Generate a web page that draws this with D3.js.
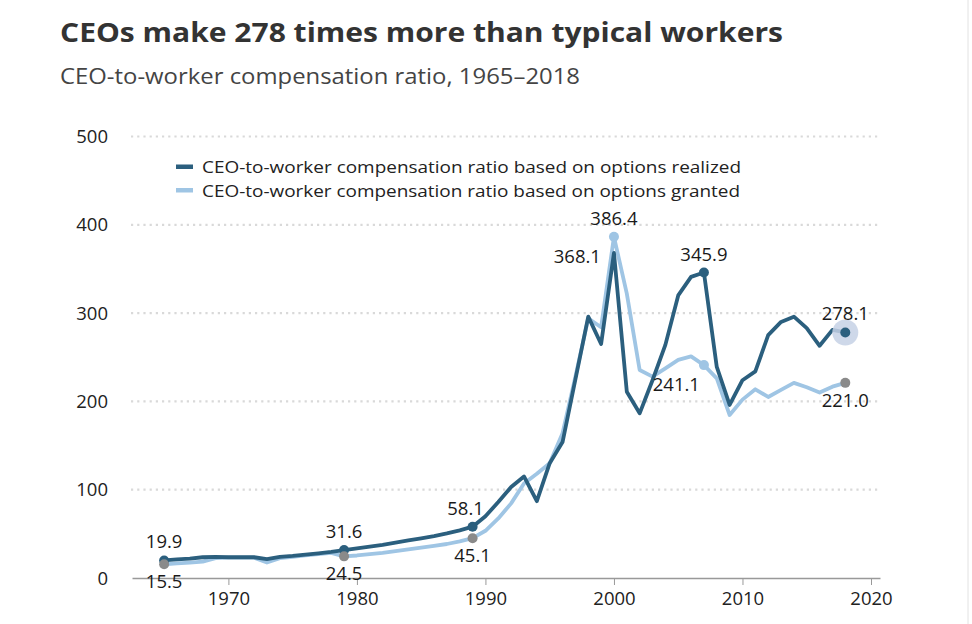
<!DOCTYPE html>
<html>
<head>
<meta charset="utf-8">
<script src="https://cdn.jsdelivr.net/npm/d3@7"></script>
<style>
  body { margin: 0; background: #fff; }
  svg { font-family: "Open Sans", Lato, sans-serif; }
</style>
</head>
<body>
<div id="chart"></div>
<script>
// Data
var years = d3.range(1965, 2019);

var realized = [
  19.9, 21, 22, 23.5, 24, 23.5, 23.5, 23.5, 21.5, 24,
  25, 26.5, 28, 29.5, 31.6, 33.5, 35.5, 37.5, 40, 42.5,
  45, 47.5, 50.5, 54, 58.1, 70, 86, 103, 115, 87,
  130, 154, 225, 296, 265, 368.1, 211, 186.5, 224, 264,
  320, 341, 345.9, 239, 196, 224, 234, 275, 290, 296,
  283, 263, 281, 278.1
];

var granted = [
  15.5, 16.5, 17.5, 18.5, 22.5, 23, 23, 23, 17.5, 22.5,
  24, 25.5, 27, 28.5, 24.5, 25.5, 27, 28.5, 30.5, 32.5,
  34.5, 36.5, 38.5, 41.5, 45.1, 53.5, 67.5, 84.5, 107, 118,
  130, 164, 228, 294, 284, 386.4, 322, 235.5, 228, 237.5,
  247, 251, 241.1, 226, 184.6, 202, 213.7, 205, 213, 221,
  216, 210, 216.7, 221.0
];

var seriesNames = [
  "CEO-to-worker compensation ratio based on options realized",
  "CEO-to-worker compensation ratio based on options granted"
];

var yTicks = [0, 100, 200, 300, 400, 500];
var xTicks = [1970, 1980, 1990, 2000, 2010, 2020];

// Labelled points: [year, series, label, placement, dot colour]
var callouts = [
  [1965, "r", "19.9", "above", "dark"], [1965, "g", "15.5", "below", "gray"],
  [1979, "r", "31.6", "above", "dark"], [1979, "g", "24.5", "below", "gray"],
  [1989, "r", "58.1", "aboveLeft", "dark"], [1989, "g", "45.1", "below", "gray"],
  [2000, "g", "386.4", "above", "light"], [2000, "r", "368.1", "left", "none"],
  [2007, "r", "345.9", "above", "dark"], [2007, "g", "241.1", "belowLeft", "light"],
  [2018, "r", "278.1", "above", "dark"], [2018, "g", "221.0", "below", "gray"]
];

var darkBlue = "#2b5f7e";
var lightBlue = "#9fc5e4";
var dotColors = { dark: darkBlue, light: lightBlue, gray: "#8a8a8a" };

var svgWidth = 972;
var svgHeight = 624;

var svg = d3.select("#chart")
  .append("svg")
  .attr("width", svgWidth)
  .attr("height", svgHeight);

// right border line
svg.append("line")
  .attr("x1", 968).attr("x2", 968)
  .attr("y1", 0).attr("y2", svgHeight)
  .attr("stroke", "#e2e2e2").attr("stroke-width", 1);

// Titles
svg.append("text")
  .attr("x", 60).attr("y", 42)
  .attr("font-size", "26px")
  .attr("font-weight", "bold")
  .attr("fill", "#333")
  .attr("textLength", 723)
  .attr("lengthAdjust", "spacingAndGlyphs")
  .text("CEOs make 278 times more than typical workers");

svg.append("text")
  .attr("x", 60).attr("y", 84)
  .attr("font-size", "21px")
  .attr("fill", "#444")
  .attr("textLength", 520)
  .attr("lengthAdjust", "spacingAndGlyphs")
  .text("CEO-to-worker compensation ratio, 1965\u20132018");

// Scales
var x = d3.scaleLinear()
  .domain([1962.5, 2020.7])
  .range([132, 880]);

var y = d3.scaleLinear()
  .domain([0, 500])
  .range([578, 136.5]);

// Gridlines
svg.append("g").selectAll("line")
  .data(yTicks.filter(d => d > 0))
  .enter()
  .append("line")
  .attr("x1", 131).attr("x2", 878)
  .attr("y1", d => y(d)).attr("y2", d => y(d))
  .attr("stroke", "#d9d9d9")
  .attr("stroke-width", 2.2)
  .attr("stroke-dasharray", "2.2 4");

// Y labels
svg.append("g").selectAll("text")
  .data(yTicks)
  .enter()
  .append("text")
  .attr("x", 108)
  .attr("y", d => y(d) + 6.5)
  .attr("text-anchor", "end")
  .attr("font-size", "18.5px")
  .attr("fill", "#222")
  .text(d => d);

// X axis
var bottomAxis = d3.axisBottom(x)
  .tickValues(xTicks)
  .tickFormat(d3.format("d"))
  .tickSize(7)
  .tickSizeOuter(0);

var xAxis = svg.append("g")
  .attr("transform", `translate(0, ${y(0)})`)
  .call(bottomAxis);

xAxis.select(".domain").attr("stroke", "#999").attr("stroke-width", 1.5);
xAxis.selectAll(".tick line").attr("stroke", "#999");
xAxis.selectAll(".tick text")
  .attr("font-size", "18.5px")
  .attr("font-family", "'Open Sans', sans-serif")
  .attr("fill", "#222")
  .attr("dy", "0.9em");

// Lines
var line = d3.line()
  .x(d => x(d[0]))
  .y(d => y(d[1]));

svg.append("path")
  .datum(years.map((yr, i) => [yr, granted[i]]))
  .attr("fill", "none")
  .attr("stroke", lightBlue)
  .attr("stroke-width", 3.8)
  .attr("stroke-linejoin", "round")
  .attr("d", line);

svg.append("path")
  .datum(years.map((yr, i) => [yr, realized[i]]))
  .attr("fill", "none")
  .attr("stroke", darkBlue)
  .attr("stroke-width", 3.8)
  .attr("stroke-linejoin", "round")
  .attr("d", line);

// Legend
var legend = svg.append("g");
seriesNames.forEach((name, i) => {
  legend.append("rect")
    .attr("x", 176).attr("y", 164.5 + i * 23.5)
    .attr("width", 17).attr("height", 4.5)
    .attr("fill", i === 0 ? darkBlue : lightBlue);
  legend.append("text")
    .attr("x", 202).attr("y", 173 + i * 23.5)
    .attr("font-size", "16.5px")
    .attr("fill", "#222")
    .attr("textLength", i === 0 ? 539 : 538)
    .attr("lengthAdjust", "spacingAndGlyphs")
    .text(name);
});

// Halo on the latest realized value
svg.append("circle")
  .attr("cx", x(2018))
  .attr("cy", y(realized[realized.length - 1]))
  .attr("r", 13)
  .attr("fill", "#c6d1e5")
  .attr("opacity", 0.85);

// Callout dots and labels
function valueOf(year, s) {
  var i = years.indexOf(year);
  return s === "r" ? realized[i] : granted[i];
}

callouts.forEach(c => {
  var cx = x(c[0]);
  var cy = y(valueOf(c[0], c[1]));

  if (c[4] !== "none") {
    svg.append("circle")
      .attr("cx", cx).attr("cy", cy)
      .attr("r", 5)
      .attr("fill", dotColors[c[4]]);
  }

  var tx = cx, ty = cy, anchor = "middle";
  if (c[3] === "above") { ty = cy - 12; }
  if (c[3] === "below") { ty = cy + 24; }
  if (c[3] === "aboveLeft") { tx = cx - 7; ty = cy - 12; }
  if (c[3] === "left") { tx = cx - 13; ty = cy + 10; anchor = "end"; }
  if (c[3] === "belowLeft") { tx = cx - 4; ty = cy + 26; anchor = "end"; }

  svg.append("text")
    .attr("x", tx).attr("y", ty)
    .attr("text-anchor", anchor)
    .attr("font-size", "18.5px")
    .attr("fill", "#1a1a1a")
    .text(c[2]);
});
</script>
</body>
</html>
